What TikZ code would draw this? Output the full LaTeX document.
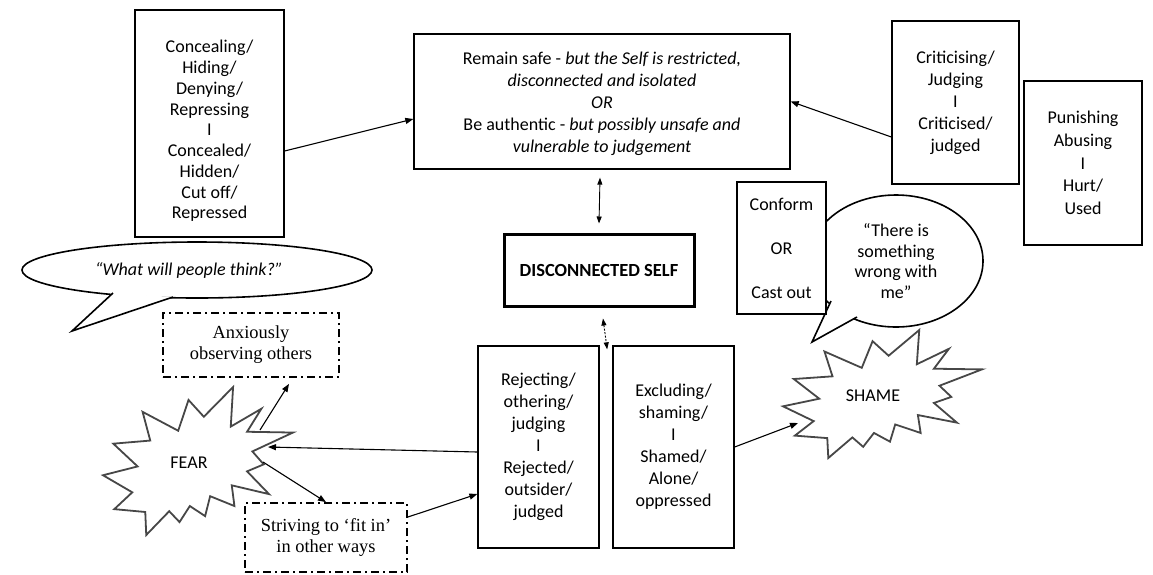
\documentclass[tikz,border=0pt]{standalone}
\usepackage{fontspec}
\setmainfont{Carlito}
\newfontfamily\seriffont{Liberation Serif}
\usetikzlibrary{arrows.meta,shapes.geometric}
\begin{document}
\begin{tikzpicture}[x=1pt,y=-1pt,
  box/.style={draw=black, line width=1.3pt, fill=white, inner sep=0pt, align=center, font=\fontsize{18}{22}\selectfont},
  dashbox/.style={draw=black, line width=1.8pt, dash pattern=on 8pt off 4pt on 2pt off 4pt, fill=white, inner sep=0pt, align=center, font=\seriffont\fontsize{18.4}{21}\selectfont},
  bubble/.style={draw=black, line width=1.6pt, fill=white, ellipse, inner sep=0pt, align=center},
  tail/.style={draw=black, line width=1.6pt, fill=white, line join=miter},
  star/.style={draw=black!72, line width=1.8pt, fill=white, line join=miter},
  lbl/.style={font=\fontsize{18}{22}\selectfont, inner sep=0pt, align=center},
  conn/.style={line width=1.1pt, -{Triangle[length=8pt,width=6pt]}},
  biconn/.style={line width=0.9pt, {Triangle[length=7pt,width=5pt]}-{Triangle[length=7pt,width=5pt]}},
]
\useasboundingbox[fill=white] (0,0) rectangle (1153,574);

% speech bubble "What will people think?"
\node[bubble, minimum width=350pt, minimum height=56pt, font=\itshape\fontsize{18}{22}\selectfont] (think) at (197,270) {“What will people think?”\hspace*{16pt}};
\coordinate (t1) at (113,293);
\coordinate (ttip) at (72,331);
\coordinate (t2) at (173,297);
\filldraw[tail] (t1) -- (ttip) -- (t2);

% speech bubble "There is something wrong with me"
\node[bubble, minimum width=174pt, minimum height=132pt, font=\fontsize{18}{20.7}\selectfont] (wrong) at (896,261) {“There is\\something\\wrong with\\me”};
\coordinate (w1) at (831,301);
\coordinate (wtip) at (812,342);
\coordinate (w2) at (857,317);
\filldraw[tail] (w1) -- (wtip) -- (w2);

% boxes
\node[box, minimum width=149pt, minimum height=227pt] (conceal) at (209.5,123.5) {};
\node[lbl, font=\fontsize{18}{20.75}\selectfont] (concealtext) at (209.5,131) {Concealing/\\Hiding/\\Denying/\\Repressing\\I\\Concealed/\\Hidden/\\Cut off/\\Repressed};
\node[box, minimum width=376pt, minimum height=135pt] (top) at (602,101.5) {};
\node[lbl] (toptext) at (602,104) {Remain safe - \textit{but the Self is restricted,}\\\textit{disconnected and isolated}\\\textit{OR}\\Be authentic - \textit{but possibly unsafe and}\\\textit{vulnerable to judgement}};
\node[box, minimum width=127pt, minimum height=163pt] (crit) at (955.5,102.5) {Criticising/\\Judging\\I\\Criticised/\\judged};
\node[box, minimum width=118pt, minimum height=164pt, font=\fontsize{18}{22.75}\selectfont] (pun) at (1083,163) {Punishing\\Abusing\\I\\Hurt/\\Used};
\node[box, minimum width=89pt, minimum height=132pt] (conf) at (781.5,248) {Conform\\[22pt]OR\\[22pt]Cast out};
\node[box, line width=3pt, minimum width=190pt, minimum height=72pt, font=\bfseries\fontsize{18.5}{22}\selectfont] (ds) at (599,270) {DISCONNECTED SELF};
\node[box, minimum width=121pt, minimum height=202pt] (rej) at (538.5,447) {Rejecting/\\othering/\\judging\\I\\Rejected/\\outsider/\\judged};
\node[box, minimum width=121pt, minimum height=202pt] (excl) at (673.5,447) {Excluding/\\shaming/\\I\\Shamed/\\Alone/\\oppressed};
\node[dashbox, minimum width=176pt, minimum height=64pt] (anx) at (251,345) {Anxiously\\observing others};
\node[dashbox, minimum width=162pt, minimum height=69pt] (striv) at (326,537.5) {Striving to ‘fit in’\\in other ways};

% FEAR explosion
\begin{scope}[shift={(103pt,-387pt)}, x=0.8796pt, y=-0.6852pt]
\draw[star] (114.62,43.42) -- (147.90,0) -- (145.25,57.77) -- (180.07,31.72) -- (163.80,65.32) -- (216,66.45) -- (169.85,94.02) -- (182.70,112.90) -- (163.80,123.10) -- (188.77,156.32) -- (146.40,143.50) -- (149.42,173.70) -- (121.80,159.35) -- (116.12,188.42) -- (98.72,173.70) -- (87,197.12) -- (75.27,181.25) -- (49.17,216) -- (48.05,182.40) -- (12.85,178.25) -- (33.30,153.70) -- (0,128.77) -- (39.35,115.92) -- (11.72,82.70) -- (53.72,78.17) -- (45.02,36.25) -- (85.50,63.82) -- (97.22,18.87) -- cycle;
\end{scope}
\node[lbl] (fear) at (189,463) {FEAR};

% SHAME explosion
\begin{scope}[shift={(783pt,-330pt)}, x=0.9213pt, y=-0.5926pt]
\draw[star] (114.62,43.42) -- (147.90,0) -- (145.25,57.77) -- (180.07,31.72) -- (163.80,65.32) -- (216,66.45) -- (169.85,94.02) -- (182.70,112.90) -- (163.80,123.10) -- (188.77,156.32) -- (146.40,143.50) -- (149.42,173.70) -- (121.80,159.35) -- (116.12,188.42) -- (98.72,173.70) -- (87,197.12) -- (75.27,181.25) -- (49.17,216) -- (48.05,182.40) -- (12.85,178.25) -- (33.30,153.70) -- (0,128.77) -- (39.35,115.92) -- (11.72,82.70) -- (53.72,78.17) -- (45.02,36.25) -- (85.50,63.82) -- (97.22,18.87) -- cycle;
\end{scope}
\node[lbl] (shame) at (873,396) {SHAME};

% connector end points on the explosions
\coordinate (fearR) at (268,447);
\coordinate (fearNE) at (260,430);
\coordinate (fearSE) at (263,462);
\coordinate (shameL) at (798,423);

% connectors
\draw[conn] ([yshift=-27.5pt]conceal.east) -- ([yshift=-17.5pt]top.west);
\draw[conn] ([yshift=-34.5pt]crit.west) -- (top.east);
\draw[biconn] ([xshift=-2pt,yshift=-8pt]top.south) -- ([yshift=9pt]ds.north);
\draw[biconn, dash pattern=on 2pt off 1.5pt] ([xshift=4pt,yshift=-11pt]ds.south) -- ([xshift=7.5pt,yshift=-4pt]rej.north east);
\draw[conn] ([yshift=-5pt]rej.west) -- (fearR);
\draw[conn] (fearNE) -- ([xshift=38pt,yshift=-6pt]anx.south);
\draw[conn] (fearSE) -- (striv.north);
\draw[conn] ([yshift=20.5pt]striv.east) -- ([yshift=-47pt]rej.west);
\draw[conn] (excl.east) -- (shameL);
\end{tikzpicture}
\end{document}
